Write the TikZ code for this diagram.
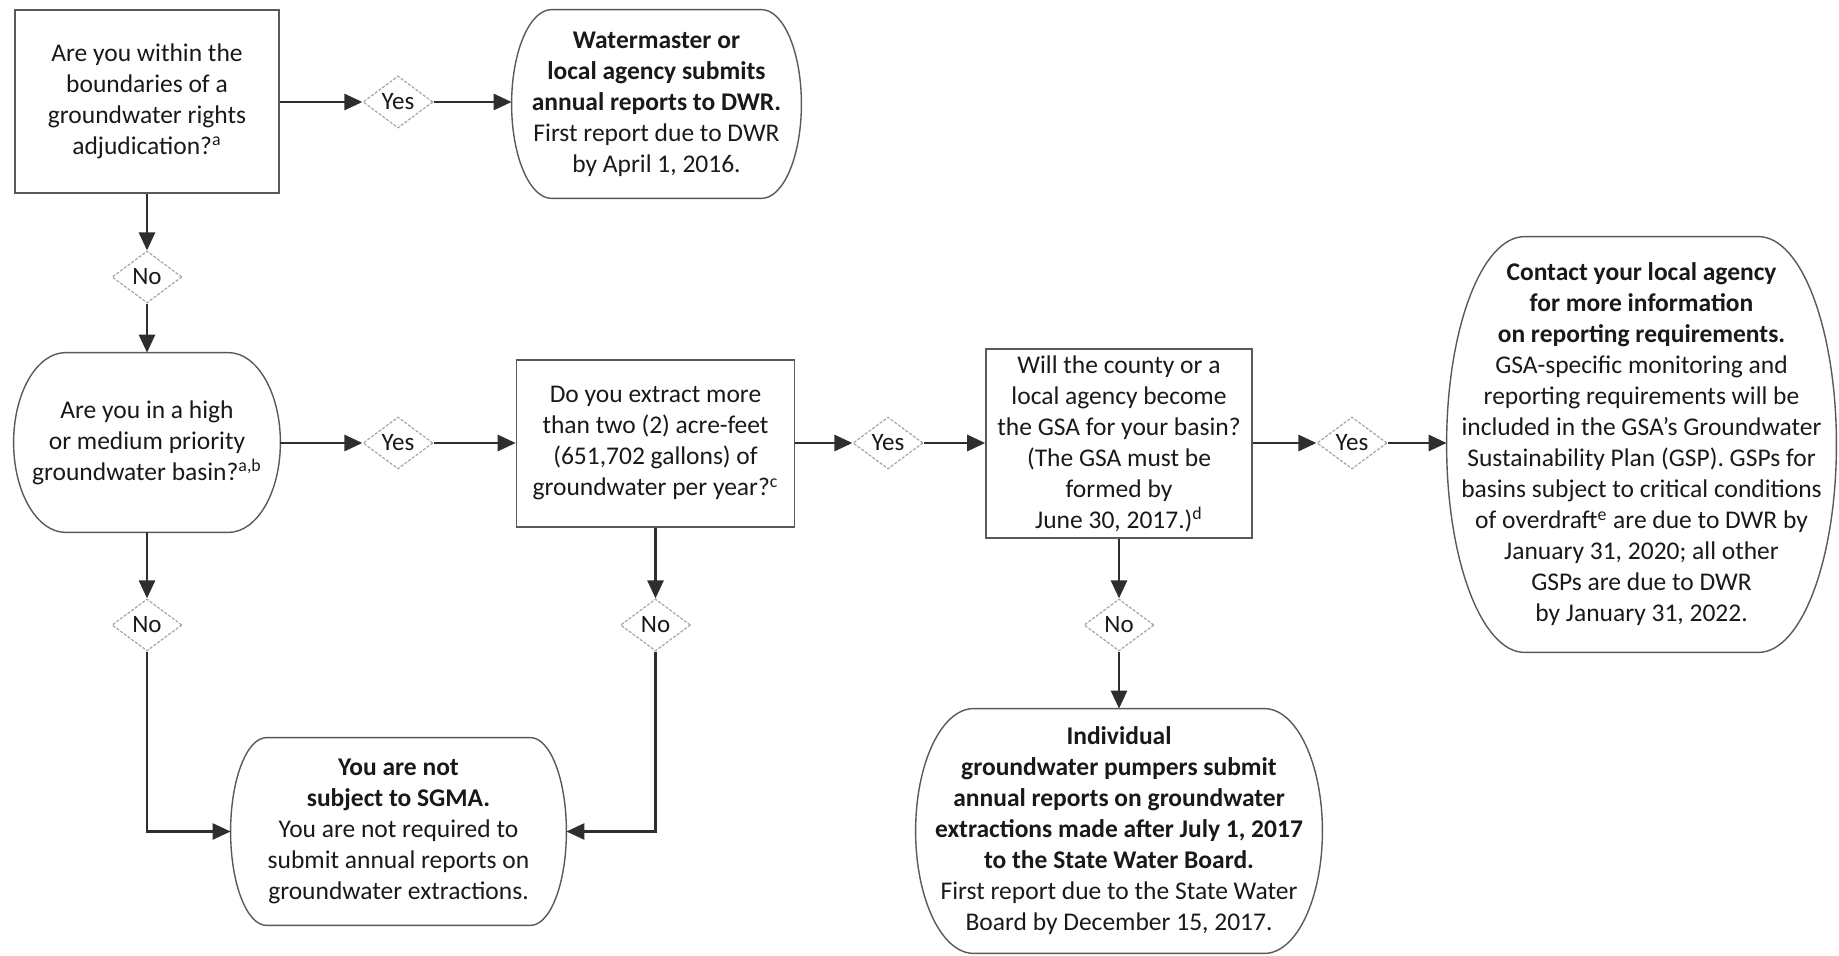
\documentclass[tikz,border=0pt]{standalone}
\usepackage{fontspec}
\setmainfont{Carlito}
\usetikzlibrary{arrows.meta,shapes.geometric,calc}
\tikzset{
  every node/.style={font=\fontsize{12.75}{15.5}\selectfont, text=black!90},
  qbox/.style={draw=black!65, line width=0.8pt, align=center, inner sep=0pt, rectangle},
  endbox/.style={align=center, inner sep=0pt, rectangle},
  tag/.style={diamond, draw=black!35, dash pattern=on 1.5pt off 0.8pt, line width=0.6pt,
    minimum width=35pt, minimum height=26pt, inner sep=0pt, font=\fontsize{12.5}{14}\selectfont, fill=white},
  link/.style={draw=black!82, line width=1.4pt, -{Triangle[length=9pt,width=8pt]}},
  outline/.style={draw=black!65, line width=0.7pt},
}
\newcommand{\bulgeoutline}[2]{%
  \draw[outline] let \p1=(#1.north east), \p2=(#1.south west) in
    ({\x2+#2},\y1) -- ({\x1-#2},\y1)
    arc[start angle=90, end angle=-90, x radius=#2, y radius={(\y1-\y2)/2}]
    -- ({\x2+#2},\y2)
    arc[start angle=270, end angle=90, x radius=#2, y radius={(\y1-\y2)/2}] -- cycle;}
\begin{document}
\begin{tikzpicture}[x=0.5pt,y=-0.5pt]
\useasboundingbox (0,0) rectangle (1839,956);

% boxes
\node[qbox, minimum width=132pt, minimum height=91.5pt] (q1) at (147,101.5)
  {Are you within the\\ boundaries of a\\ groundwater rights\\ adjudication?\textsuperscript{a}};
\node[endbox, minimum width=144.5pt, minimum height=94pt] (a2) at (656.5,104)
  {\textbf{Watermaster or}\\ \textbf{local agency submits}\\ \textbf{annual reports to DWR.}\\ First report due to DWR\\ by April 1, 2016.};
\node[endbox, minimum width=133pt, minimum height=89.5pt] (q3) at (147,442.5)
  {Are you in a high\\ or medium priority\\ groundwater basin?\textsuperscript{a,b}};
\node[qbox, minimum width=139pt, minimum height=83.5pt] (q4) at (655.5,443.5)
  {Do you extract more\\ than two (2) acre-feet\\ (651,702 gallons) of\\ groundwater per year?\textsuperscript{c}};
\node[qbox, minimum width=133pt, minimum height=94.5pt] (q5) at (1119,443.5)
  {Will the county or a\\ local agency become\\ the GSA for your basin?\\ (The GSA must be\\ formed by\\ June 30, 2017.)\textsuperscript{d}};
\node[endbox, minimum width=194.5pt, minimum height=207.5pt] (a6) at (1641.5,444.5)
  {\textbf{Contact your local agency}\\ \textbf{for more information}\\ \textbf{on reporting requirements.}\\
   GSA-specific monitoring and\\ reporting requirements will be\\ included in the GSA’s Groundwater\\
   Sustainability Plan (GSP). GSPs for\\ basins subject to critical conditions\\
   of overdraft\textsuperscript{e} are due to DWR by\\ January 31, 2020; all other\\ GSPs are due to DWR\\ by January 31, 2022.};
\node[endbox, minimum width=167.5pt, minimum height=93.5pt] (a7) at (398.5,831.5)
  {\textbf{You are not}\\ \textbf{subject to SGMA.}\\ You are not required to\\ submit annual reports on\\ groundwater extractions.};
\node[endbox, minimum width=203pt, minimum height=122pt] (a8) at (1119,831)
  {\textbf{Individual}\\ \textbf{groundwater pumpers submit}\\ \textbf{annual reports on groundwater}\\
   \textbf{extractions made after July 1, 2017}\\ \textbf{to the State Water Board.}\\
   First report due to the State Water\\ Board by December 15, 2017.};

\bulgeoutline{a2}{20pt}
\bulgeoutline{q3}{26pt}
\bulgeoutline{a6}{39pt}
\bulgeoutline{a7}{18pt}
\bulgeoutline{a8}{29pt}

% diamonds
\node[tag] (y1) at (398,102) {Yes};
\node[tag] (y2) at (398,443) {Yes};
\node[tag] (y3) at (888,443) {Yes};
\node[tag] (y4) at (1352,443) {Yes};
\node[tag] (n1) at (147,277) {No};
\node[tag] (n2) at (147,625) {No};
\node[tag] (n3) at (655.5,625) {No};
\node[tag] (n4) at (1119,625) {No};

% connectors
\draw[link] (q1.east |- y1.west) -- (y1.west);
\draw[link] (y1.east) -- (y1.east -| a2.west);
\draw[link] (q1.south) -- (n1.north);
\draw[link] (n1.south) -- (q3.north);
\draw[link] (q3.east |- y2.west) -- (y2.west);
\draw[link] (y2.east) -- (y2.east -| q4.west);
\draw[link] (q4.east |- y3.west) -- (y3.west);
\draw[link] (y3.east) -- (y3.east -| q5.west);
\draw[link] (q5.east |- y4.west) -- (y4.west);
\draw[link] (y4.east) -- (y4.east -| a6.west);
\draw[link] (q3.south) -- (n2.north);
\draw[link] (n2.south) |- (a7.west);
\draw[link] (q4.south) -- (n3.north);
\draw[link] (n3.south) |- (a7.east);
\draw[link] (q5.south) -- (n4.north);
\draw[link] (n4.south) -- (a8.north);
\end{tikzpicture}
\end{document}
